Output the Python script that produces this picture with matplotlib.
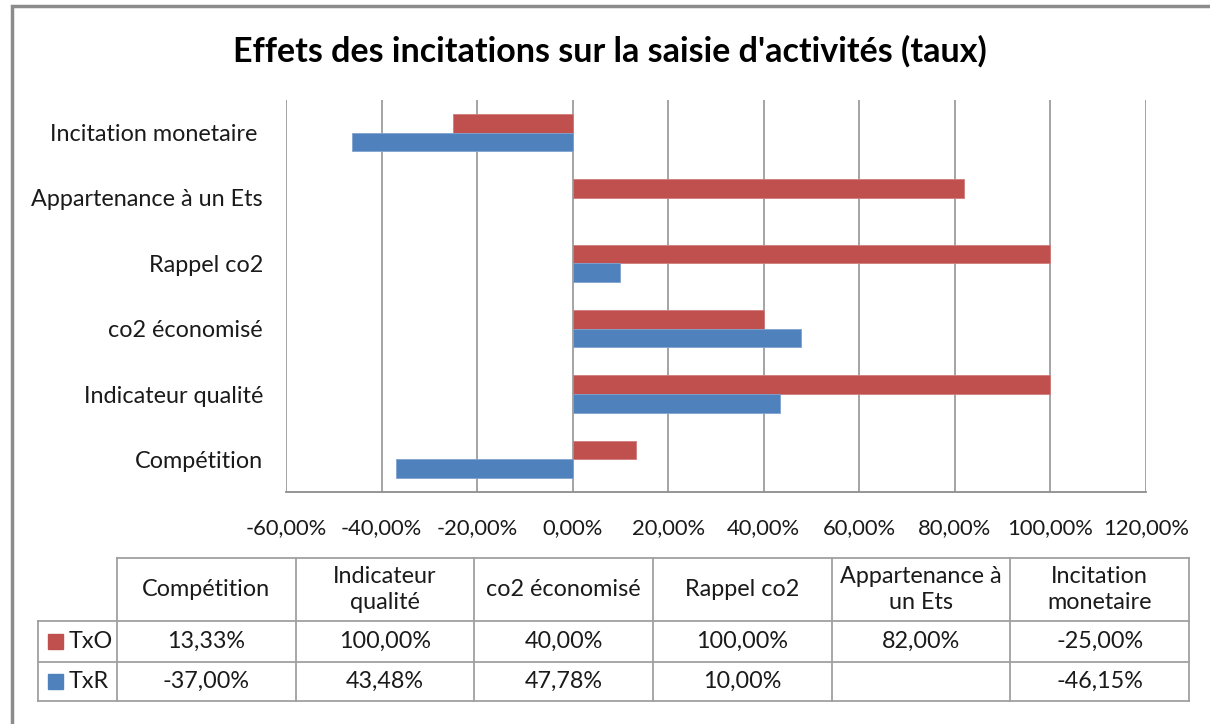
import matplotlib
matplotlib.use("Agg")
import matplotlib.pyplot as plt
from matplotlib.patches import Rectangle
from matplotlib.ticker import FuncFormatter
import numpy as np

# ---- data ----
categories = ["Compétition", "Indicateur qualité", "co2 économisé",
              "Rappel co2", "Appartenance à un Ets", "Incitation monetaire "]
table_headers = ["Compétition", "Indicateur\nqualité", "co2 économisé",
                 "Rappel co2", "Appartenance à\nun Ets", "Incitation\nmonetaire"]
series_names = ["TxO", "TxR"]
txo = [13.33, 100.00, 40.00, 100.00, 82.00, -25.00]
txr = [-37.00, 43.48, 47.78, 10.00, None, -46.15]
x_ticks = [-60, -40, -20, 0, 20, 40, 60, 80, 100, 120]
title = "Effets des incitations sur la saisie d'activités (taux)"

RED = "#C0504D"
BLUE = "#4F81BD"
GRID = "#8C8C8C"
TXT = "#1a1a1a"

plt.rcParams['font.family'] = ['Lato', 'DejaVu Sans']

W, H = 1210, 724
fig = plt.figure(figsize=(W / 100, H / 100), dpi=100)

def fx(px):
    return px / W

def fy(py):
    return 1 - py / H

# outer frame
fig.patches.append(Rectangle((fx(12), fy(760)), fx(1300) - fx(12), fy(6) - fy(760),
                             transform=fig.transFigure, fill=False,
                             edgecolor="#8C8C8C", lw=2.5))

fig.text(fx(610), fy(51), title, ha="center", va="center",
         fontsize=24.5, fontweight="bold", color="black")

# ---- bar chart ----
left, right, top, bottom = 286, 1146, 100, 492
ax = fig.add_axes([fx(left), fy(bottom), fx(right) - fx(left), fy(top) - fy(bottom)])
y = np.arange(len(categories))
bh = 1 / 3.5
txo_arr = np.array(txo, dtype=float)
txr_arr = np.array([np.nan if v is None else v for v in txr], dtype=float)
ax.barh(y + bh / 2, txo_arr, height=bh, color=RED, edgecolor="#D07C7A", lw=0.6, zorder=3)
mask = ~np.isnan(txr_arr)
ax.barh(y[mask] - bh / 2, txr_arr[mask], height=bh, color=BLUE, edgecolor="#7FA3D0", lw=0.6, zorder=3)

ax.set_xlim(x_ticks[0], x_ticks[-1])
ax.set_ylim(-0.5, len(categories) - 0.5)
ax.set_xticks(x_ticks)
ax.xaxis.set_major_formatter(FuncFormatter(lambda v, p: f"{v:.2f}%".replace(".", ",")))
ax.set_yticks(y)
ax.set_yticklabels(categories)
ax.tick_params(axis="both", length=0, colors=TXT)
ax.tick_params(axis="x", pad=18.5, labelsize=15.8)
ax.tick_params(axis="y", pad=16.5, labelsize=16.8)
ax.grid(axis="x", color=GRID, lw=1.1, zorder=0)
for s in ["top", "right", "left"]:
    ax.spines[s].set_visible(False)
ax.spines["bottom"].set_color(GRID)
ax.spines["bottom"].set_linewidth(1.3)
ax.set_facecolor("none")

# ---- data table ----
tax = fig.add_axes([0, 0, 1, 1])
tax.set_xlim(0, W)
tax.set_ylim(H, 0)
tax.axis("off")

lbl_l, tab_l, tab_r = 38, 117, 1189
row_y = [558, 621, 662, 701]
ncol = len(categories)
col_x = np.linspace(tab_l, tab_r, ncol + 1)
lc = "#A0A0A0"
lw = 1.3
# horizontal lines
tax.plot([tab_l, tab_r], [row_y[0]] * 2, color=lc, lw=lw)
for ry in row_y[1:]:
    tax.plot([lbl_l, tab_r], [ry] * 2, color=lc, lw=lw)
# vertical lines
tax.plot([lbl_l, lbl_l], [row_y[1], row_y[3]], color=lc, lw=lw)
for cx in col_x:
    tax.plot([cx, cx], [row_y[0], row_y[3]], color=lc, lw=lw)

def fmt(v):
    return "" if v is None else f"{v:.2f}%".replace(".", ",")

fs = 16.8
for i in range(ncol):
    cx = (col_x[i] + col_x[i + 1]) / 2
    tax.text(cx, (row_y[0] + row_y[1]) / 2, table_headers[i], ha="center", va="center",
             fontsize=fs, color=TXT, linespacing=1.35)
    tax.text(cx, (row_y[1] + row_y[2]) / 2, fmt(txo[i]), ha="center", va="center",
             fontsize=fs, color=TXT)
    tax.text(cx, (row_y[2] + row_y[3]) / 2, fmt(txr[i]), ha="center", va="center",
             fontsize=fs, color=TXT)

for r, (name, col) in enumerate(zip(series_names, [RED, BLUE])):
    cy = (row_y[r + 1] + row_y[r + 2]) / 2
    tax.add_patch(Rectangle((48, cy - 7.5), 15, 15, color=col))
    tax.text(69, cy, name, ha="left", va="center", fontsize=fs, color=TXT)

fig.savefig("out.png", dpi=100)
